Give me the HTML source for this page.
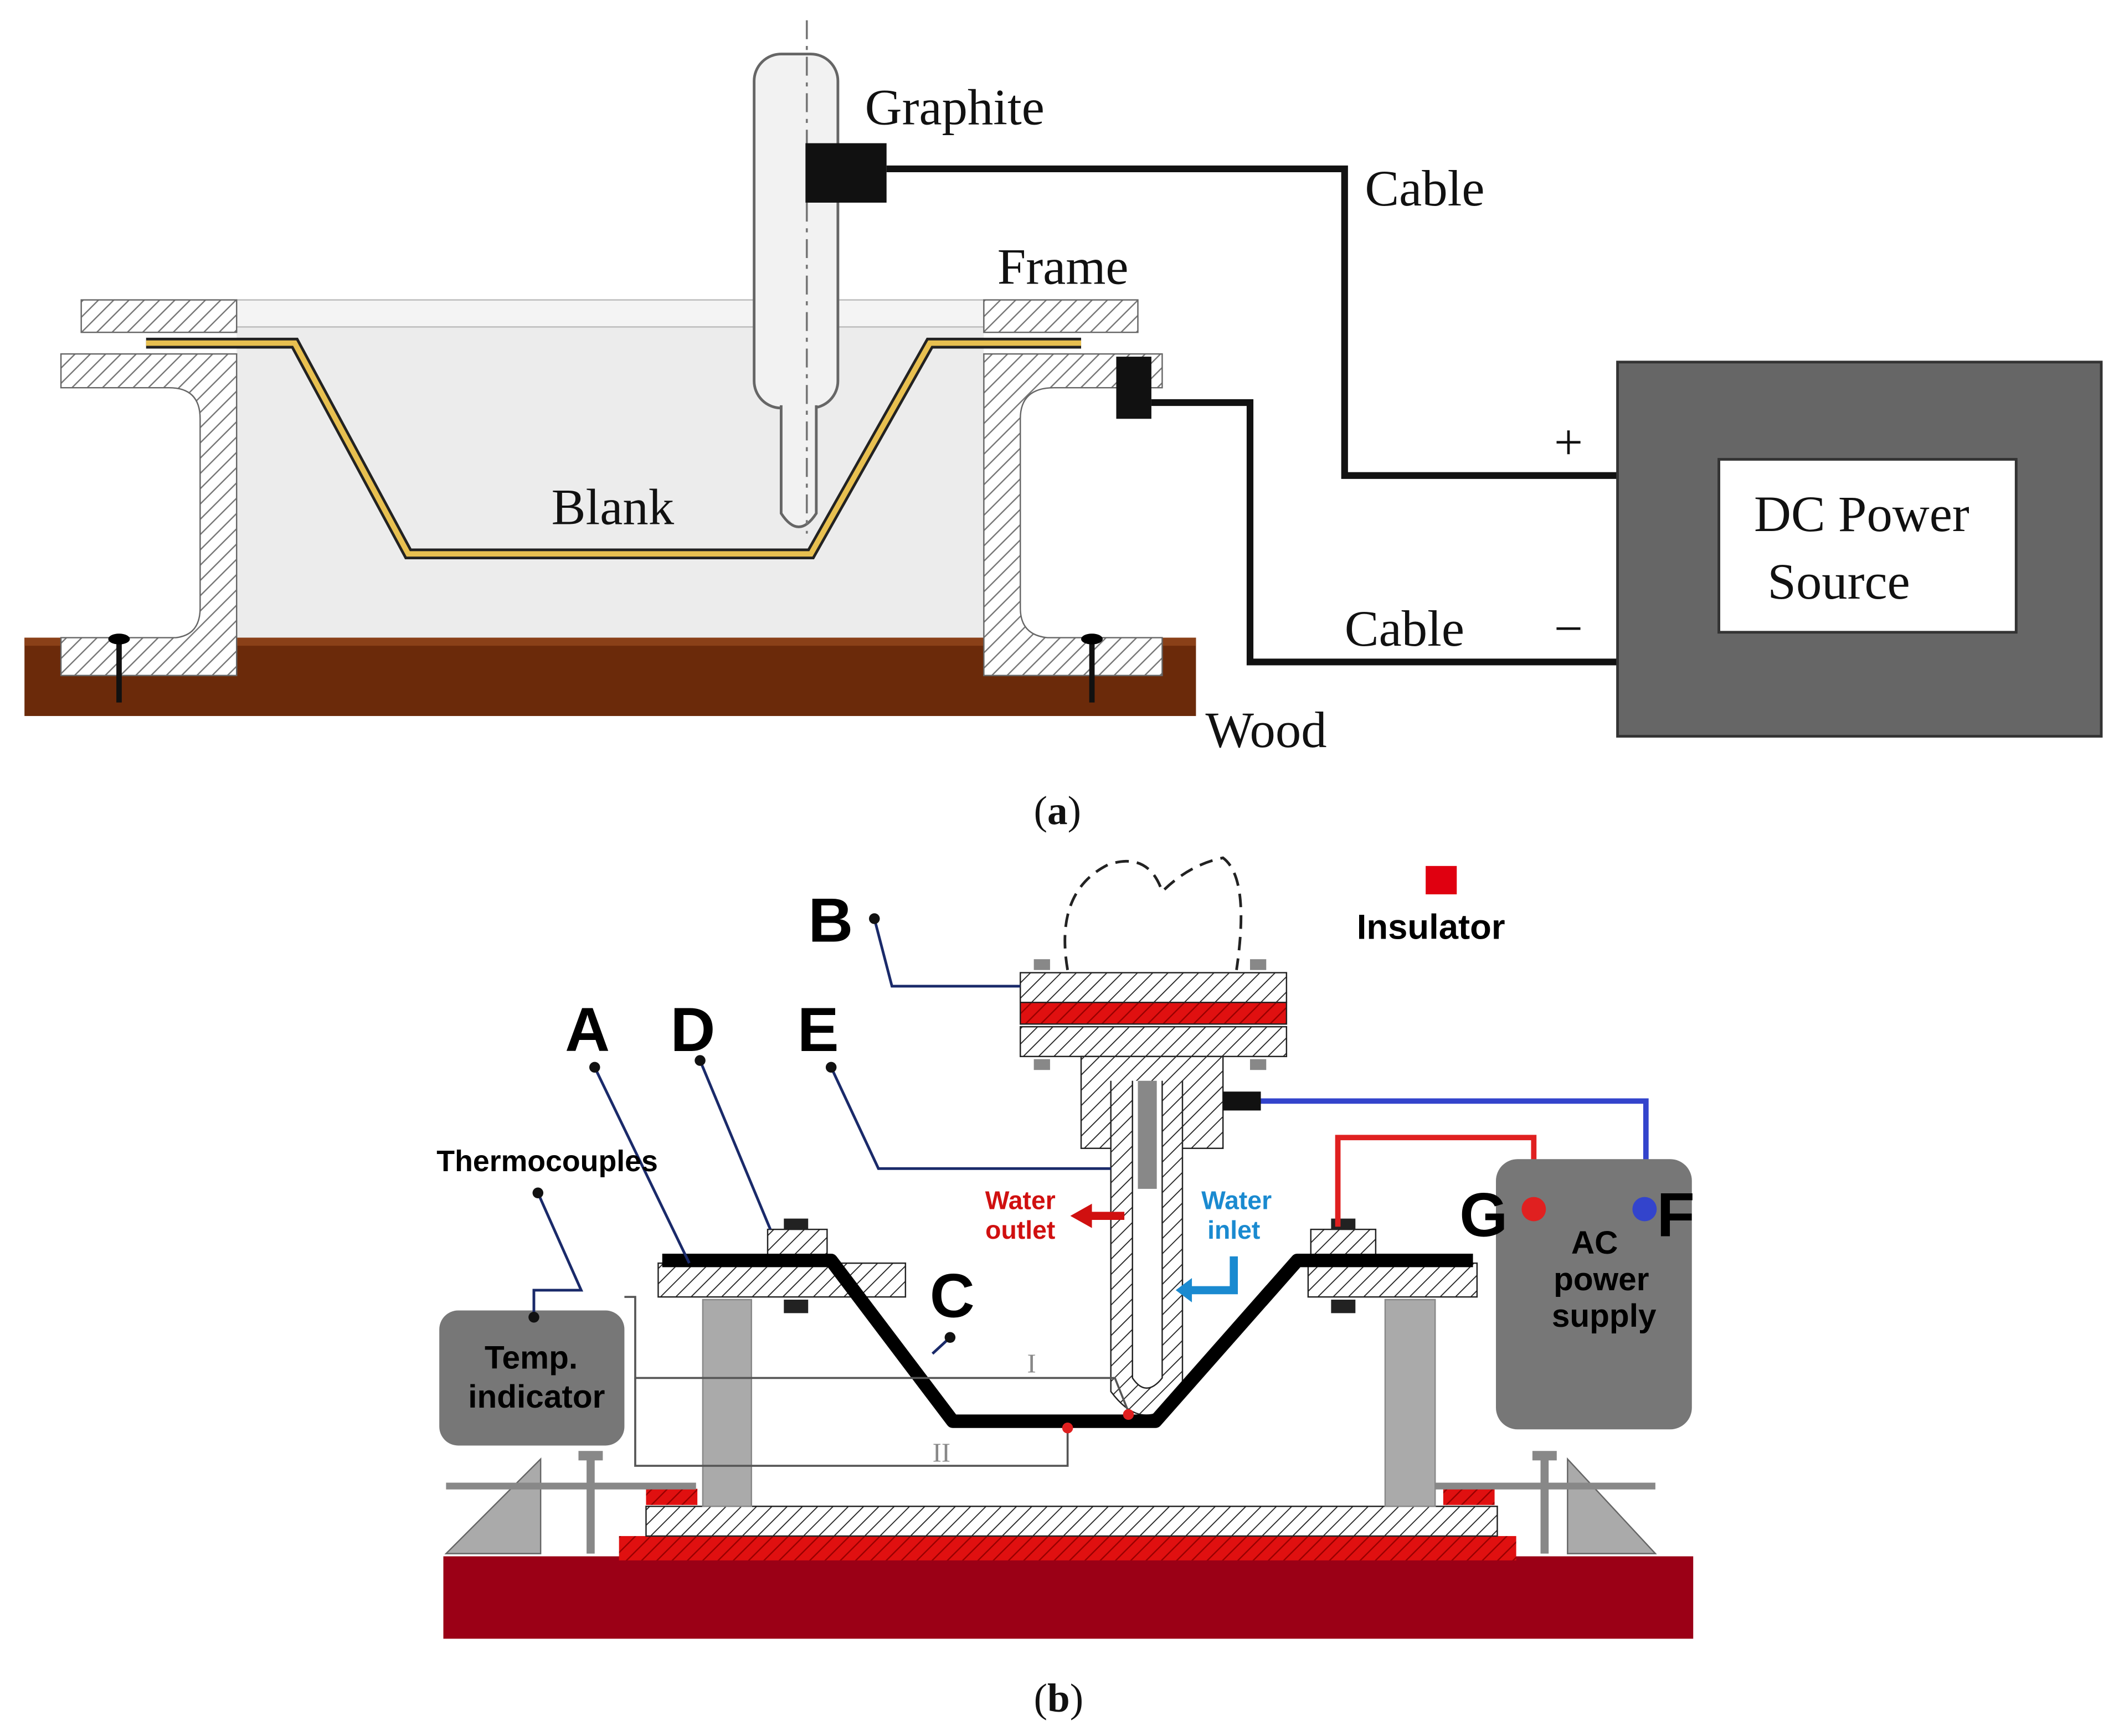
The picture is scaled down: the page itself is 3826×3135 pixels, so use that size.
<!DOCTYPE html>
<html><head><meta charset="utf-8"><style>html,body{margin:0;padding:0;background:#fff}svg{display:block}</style></head><body>
<svg width="3826" height="3135" viewBox="0 0 1568 1285" xmlns="http://www.w3.org/2000/svg" font-family="Liberation Serif, serif">
<defs>
<pattern id="h" width="8" height="8" patternUnits="userSpaceOnUse" patternTransform="rotate(45)"><rect width="8" height="8" fill="#fff"/><line x1="0" y1="0" x2="0" y2="8" stroke="#777" stroke-width="2"/></pattern>
<pattern id="hb" width="8" height="8" patternUnits="userSpaceOnUse" patternTransform="rotate(45)"><rect width="8" height="8" fill="#fff"/><line x1="0" y1="0" x2="0" y2="8" stroke="#222" stroke-width="1.5"/></pattern>
<pattern id="hr" width="8" height="8" patternUnits="userSpaceOnUse" patternTransform="rotate(45)"><rect width="8" height="8" fill="#e01010"/><line x1="0" y1="0" x2="0" y2="8" stroke="#900" stroke-width="2"/></pattern>
</defs>
<!-- (a) -->
<rect x="175" y="240" width="553" height="260" fill="#ececec"/>
<rect x="175" y="222" width="553" height="20" fill="#f4f4f4" stroke="#bbb"/>
<rect x="18" y="472" width="867" height="58" fill="#6b2a0a"/>
<rect x="18" y="472" width="867" height="6" fill="#8a4018"/>
<rect x="60" y="222" width="115" height="24" fill="url(#h)" stroke="#666"/>
<rect x="728" y="222" width="114" height="24" fill="url(#h)" stroke="#666"/>
<path d="M45 262 H175 V500 H45 V472 H130 Q148 470 148 450 V310 Q148 287 125 287 H45 Z" fill="url(#h)" stroke="#666"/>
<path d="M860 262 H728 V500 H860 V472 H775 Q755 470 755 450 V310 Q755 287 780 287 H860 Z" fill="url(#h)" stroke="#666"/>
<line x1="88" y1="475" x2="88" y2="520" stroke="#111" stroke-width="4"/><ellipse cx="88" cy="473" rx="8" ry="4"/>
<line x1="808" y1="475" x2="808" y2="520" stroke="#111" stroke-width="4"/><ellipse cx="808" cy="473" rx="8" ry="4"/>
<polyline points="108,254 218,254 302,410 600,410 688,254 800,254" fill="none" stroke="#222" stroke-width="8"/>
<polyline points="108,254 218,254 302,410 600,410 688,254 800,254" fill="none" stroke="#e8c050" stroke-width="4"/>
<rect x="558" y="40" width="62" height="262" rx="20" fill="#f2f2f2" stroke="#666" stroke-width="2"/>
<path d="M578 300 V380 Q591 400 604 380 V300" fill="#f2f2f2" stroke="#666" stroke-width="2"/>
<line x1="597" y1="15" x2="597" y2="395" stroke="#777" stroke-width="1.5" stroke-dasharray="14,5,3,5"/>
<rect x="596" y="106" width="60" height="44" fill="#111"/>
<polyline points="656,125 995,125 995,352 1197,352" fill="none" stroke="#111" stroke-width="5"/>
<rect x="826" y="264" width="26" height="46" fill="#111"/>
<polyline points="852,298 925,298 925,490 1197,490" fill="none" stroke="#111" stroke-width="5"/>
<rect x="1197" y="268" width="358" height="277" fill="#666" stroke="#333" stroke-width="2"/>
<rect x="1272" y="340" width="220" height="128" fill="#fff" stroke="#333" stroke-width="2"/>
<g font-size="38" fill="#111">
<text x="640" y="92">Graphite</text><text x="1010" y="152">Cable</text><text x="738" y="210">Frame</text>
<text x="408" y="388">Blank</text><text x="1150" y="340">+</text><text x="995" y="478">Cable</text><text x="1150" y="478">−</text>
<text x="892" y="553">Wood</text><text x="1298" y="393">DC Power</text><text x="1308" y="443">Source</text>
<text x="765" y="610" font-size="30">(<tspan font-weight="bold">a</tspan>)</text>
<text x="765" y="1267" font-size="30">(<tspan font-weight="bold">b</tspan>)</text>
</g>
<!-- (b) -->
<rect x="328" y="1152" width="925" height="61" fill="#9b0016"/>
<rect x="458" y="1137" width="664" height="18" fill="url(#hr)"/>
<rect x="478" y="1115" width="630" height="22" fill="url(#hb)" stroke="#222"/>
<rect x="478" y="1102" width="38" height="12" fill="url(#hr)"/><rect x="1068" y="1102" width="38" height="12" fill="url(#hr)"/>
<polygon points="330,1150 400,1080 400,1150" fill="#aaa" stroke="#666"/>
<polygon points="1225,1150 1160,1080 1160,1150" fill="#aaa" stroke="#666"/>
<line x1="330" y1="1100" x2="515" y2="1100" stroke="#888" stroke-width="5"/>
<line x1="1062" y1="1100" x2="1225" y2="1100" stroke="#888" stroke-width="5"/>
<line x1="437" y1="1078" x2="437" y2="1150" stroke="#888" stroke-width="6"/><rect x="428" y="1074" width="18" height="7" fill="#888"/>
<line x1="1143" y1="1078" x2="1143" y2="1150" stroke="#888" stroke-width="6"/><rect x="1134" y="1074" width="18" height="7" fill="#888"/>
<rect x="520" y="962" width="36" height="153" fill="#aaa" stroke="#888"/><rect x="1025" y="962" width="37" height="153" fill="#aaa" stroke="#888"/>
<rect x="487" y="935" width="183" height="25" fill="url(#hb)" stroke="#222"/>
<rect x="968" y="935" width="125" height="25" fill="url(#hb)" stroke="#222"/>
<rect x="568" y="910" width="44" height="20" fill="url(#hb)" stroke="#222"/><rect x="970" y="910" width="48" height="20" fill="url(#hb)" stroke="#222"/>
<rect x="580" y="902" width="18" height="8" fill="#222"/><rect x="580" y="962" width="18" height="10" fill="#222"/>
<rect x="985" y="902" width="18" height="8" fill="#222"/><rect x="985" y="962" width="18" height="10" fill="#222"/>
<!-- tool -->
<path d="M790 718 Q780 660 820 640 Q850 630 860 660 Q880 640 905 635 Q925 650 915 718" fill="none" stroke="#222" stroke-width="2" stroke-dasharray="10,6"/>
<rect x="755" y="720" width="197" height="22" fill="url(#hb)" stroke="#222"/>
<rect x="755" y="742" width="197" height="16" fill="url(#hr)" stroke="#222"/>
<rect x="755" y="760" width="197" height="22" fill="url(#hb)" stroke="#222"/>
<rect x="765" y="710" width="12" height="8" fill="#888"/><rect x="925" y="710" width="12" height="8" fill="#888"/>
<rect x="765" y="784" width="12" height="8" fill="#888"/><rect x="925" y="784" width="12" height="8" fill="#888"/>
<rect x="800" y="782" width="105" height="68" fill="url(#hb)" stroke="#222"/>
<path d="M822 800 V1030 Q848 1065 875 1030 V800" fill="url(#hb)" stroke="#222"/>
<path d="M838 800 V1020 Q848 1035 860 1020 V800" fill="#fff" stroke="#222"/>
<rect x="842" y="800" width="14" height="80" fill="#888"/>
<rect x="905" y="808" width="28" height="14" fill="#111"/>
<polyline points="933,815 1218,815 1218,895" fill="none" stroke="#3344cc" stroke-width="4"/>
<polyline points="990,908 990,842 1135,842 1135,895" fill="none" stroke="#e02020" stroke-width="4"/>
<polyline points="490,933 615,933 705,1052 855,1052 960,933 1090,933" fill="none" stroke="#000" stroke-width="10" stroke-linejoin="round"/>
<rect x="325" y="970" width="137" height="100" rx="14" fill="#777"/>
<rect x="1107" y="858" width="145" height="200" rx="16" fill="#777"/>
<circle cx="1135" cy="895" r="9" fill="#e02020"/><circle cx="1217" cy="895" r="9" fill="#3344cc"/>
<!-- thermocouple wires -->
<polyline points="462,960 470,960 470,1020 825,1020 835,1045" fill="none" stroke="#555" stroke-width="1.5"/>
<polyline points="470,1020 470,1085 790,1085 790,1057" fill="none" stroke="#555" stroke-width="1.5"/>
<circle cx="835" cy="1047" r="4" fill="#e02020"/><circle cx="790" cy="1057" r="4" fill="#e02020"/>
<!-- leaders -->
<g fill="none" stroke="#1a2a6a" stroke-width="2">
<polyline points="647,680 660,730 755,730"/><polyline points="440,790 510,935"/><polyline points="518,785 570,910"/>
<polyline points="615,790 650,865 822,865"/><polyline points="398,883 430,955 395,955 395,975"/><polyline points="703,990 690,1002"/>
</g>
<g fill="#111"><circle cx="647" cy="680" r="4"/><circle cx="440" cy="790" r="4"/><circle cx="518" cy="785" r="4"/><circle cx="615" cy="790" r="4"/><circle cx="398" cy="883" r="4"/><circle cx="703" cy="990" r="4"/><circle cx="395" cy="975" r="4"/></g>
<path d="M832 897 H808 V891 L792 900 L808 909 V903 H832 Z" fill="#d01010"/>
<path d="M910 930 V952 H882 V946 L870 955 L882 964 V958 H916 V930 Z" fill="#1a8ad0"/>
<rect x="1055" y="641" width="23" height="21" fill="#e00010"/>
<g font-family="Liberation Sans, sans-serif" font-weight="bold">
<text x="598" y="697" font-size="46">B</text><text x="418" y="778" font-size="46">A</text><text x="496" y="778" font-size="46">D</text>
<text x="590" y="778" font-size="46">E</text><text x="688" y="975" font-size="46">C</text><text x="1080" y="915" font-size="46">G</text><text x="1226" y="915" font-size="46">F</text>
<text x="1004" y="695" font-size="26">Insulator</text><text x="323" y="867" font-size="22">Thermocouples</text>
<text x="393" y="1013" font-size="24" text-anchor="middle">Temp.</text><text x="397" y="1042" font-size="24" text-anchor="middle">indicator</text>
<text x="1180" y="928" font-size="24" text-anchor="middle">AC</text><text x="1185" y="955" font-size="24" text-anchor="middle">power</text><text x="1187" y="982" font-size="24" text-anchor="middle">supply</text>
<text x="755" y="895" font-size="19" fill="#d01010" text-anchor="middle">Water</text><text x="755" y="917" font-size="19" fill="#d01010" text-anchor="middle">outlet</text>
<text x="915" y="895" font-size="19" fill="#1a8ad0" text-anchor="middle">Water</text><text x="913" y="917" font-size="19" fill="#1a8ad0" text-anchor="middle">inlet</text>
</g>
<text x="760" y="1016" font-size="20" fill="#888">I</text><text x="690" y="1082" font-size="20" fill="#888">II</text>
</svg>
</body></html>
